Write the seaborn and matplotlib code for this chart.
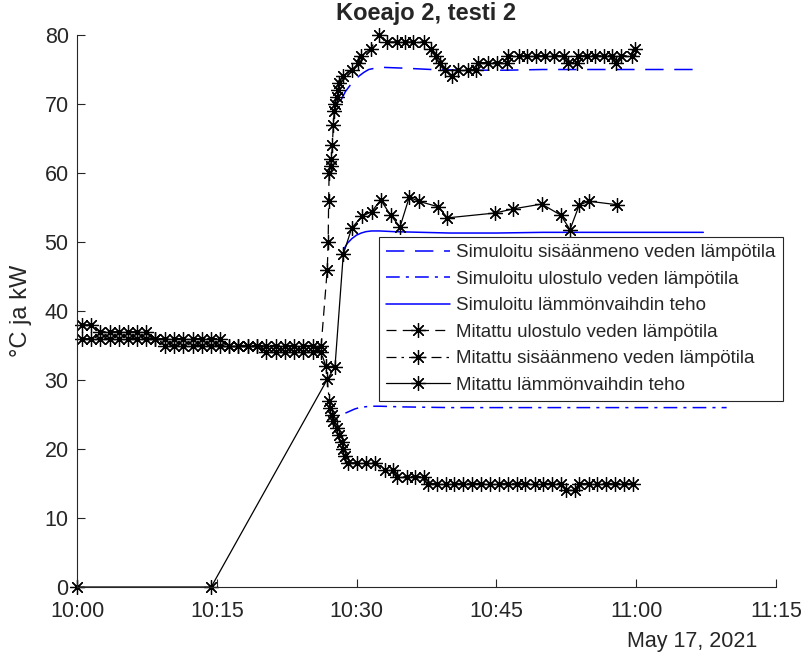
import numpy as np
import pandas as pd
import matplotlib
matplotlib.use("Agg")
import matplotlib.pyplot as plt
import matplotlib.dates as mdates
import seaborn as sns

# ---- measured data (minutes after 10:00) ----
t_out = [0.5, 1.5, 2.5, 3.5, 4.5, 5.5, 6.4, 7.4, 8.4, 9.4, 10.4, 11.4, 12.4, 13.4,
         14.4, 15.3, 16.3, 17.3, 18.3, 19.3, 20.3, 21.3, 22.3, 23.3, 24.3, 25.3, 26.2,
         26.85, 26.95, 27.0, 27.05, 27.2, 27.3, 27.4, 27.5, 27.6, 27.7, 27.9, 28.0, 28.1,
         28.5, 29.5, 30.2, 30.5, 31.5, 32.4, 33.3, 34.3, 35.2, 36.1, 37.2, 38.0, 38.55,
         38.9, 39.5, 40.2, 40.9, 41.9, 42.8, 43.0, 44.1, 45.1, 46.1, 46.2, 47.4, 48.3,
         49.3, 50.2, 51.2, 52.2, 52.7, 53.6, 53.8, 54.7, 55.6, 56.5, 57.4, 57.8, 58.4,
         59.5, 59.9]
v_out = [38, 38, 37, 37, 37, 37, 37, 37, 36, 36, 36, 36, 36, 36,
         36, 36, 35, 35, 35, 35, 35, 35, 35, 35, 35, 35, 35,
         46, 50, 56, 60, 61, 62, 64, 67, 69, 70, 71, 72, 73,
         74, 75, 76, 77, 78, 80, 79, 79, 79, 79, 79, 78, 77,
         76, 75, 74, 75, 75, 75, 76, 76, 76, 76, 77, 77, 77,
         77, 77, 77, 77, 76, 76, 77, 77, 77, 77, 77, 76, 77,
         77, 78]

t_in = [0.5, 1.5, 2.5, 3.5, 4.5, 5.5, 6.4, 7.4, 8.4, 9.4, 10.4, 11.4, 12.4, 13.4,
        14.4, 15.3, 16.3, 17.3, 18.3, 19.3, 20.3, 21.3, 22.3, 23.3, 24.3, 25.3, 26.2,
        26.7, 27.07, 27.15, 27.33, 27.5, 27.86, 28.14, 28.4, 28.57, 28.76, 29.11, 30.0,
        31.0, 32.0, 33.05, 33.9, 34.3, 35.4, 36.3, 37.2, 37.7, 38.6, 39.6, 40.5, 41.4,
        42.4, 43.3, 44.3, 45.3, 46.2, 47.2, 48.1, 49.1, 50.0, 51.0, 51.9, 52.5, 53.4,
        53.9, 54.9, 55.8, 56.8, 57.7, 58.7, 59.7]
v_in = [36, 36, 36, 36, 36, 36, 36, 36, 36, 35, 35, 35, 35, 35,
        35, 35, 35, 35, 35, 35, 34, 34, 34, 34, 34, 34, 34,
        32, 27, 26, 25, 24, 23, 22, 21, 20, 19, 18, 18,
        18, 18, 17, 17, 16, 16, 16, 16, 15, 15, 15, 15, 15,
        15, 15, 15, 15, 15, 15, 15, 15, 15, 15, 15, 14, 14,
        15, 15, 15, 15, 15, 15, 15]

t_pow = [0, 14.4, 26.86, 27.68, 28.57, 29.47, 30.55, 31.62, 32.59, 33.64, 34.66,
         35.65, 36.67, 38.77, 39.75, 44.85, 46.81, 49.86, 51.9, 52.9, 53.9, 54.97, 57.97]
v_pow = [0, 0, 30.1, 31.9, 48.2, 52.0, 53.7, 54.4, 56.1, 53.9, 52.2,
         56.5, 55.9, 55.1, 53.5, 54.2, 54.8, 55.5, 53.9, 51.8, 55.4, 55.9, 55.4]

# ---- simulated data ----
ts_in = [28.3, 28.8, 29.3, 29.8, 30.3, 30.8, 31.3, 32.0, 33.0, 35.0, 38.0, 42.0,
         46.0, 50.0, 55.0, 60.0, 67.2]
vs_in = [70.5, 71.8, 72.7, 73.5, 74.1, 74.6, 75.0, 75.2, 75.3, 75.2, 75.0, 74.9,
         74.9, 75.0, 75.0, 75.0, 75.0]

ts_out = [28.8, 29.3, 29.8, 30.3, 30.8, 31.5, 32.5, 35.0, 40.0, 45.0, 50.0, 55.0,
          60.0, 65.0, 69.7]
vs_out = [25.2, 25.5, 25.8, 26.0, 26.1, 26.2, 26.2, 26.1, 26.0, 26.0, 26.0, 26.0,
          26.0, 26.0, 26.0]

ts_pow = [28.6, 29.0, 29.5, 30.0, 30.5, 31.0, 31.6, 32.5, 34.0, 37.0, 40.0, 45.0,
          50.0, 55.0, 60.0, 67.2]
vs_pow = [48.9, 49.8, 50.5, 51.0, 51.3, 51.5, 51.6, 51.6, 51.5, 51.4, 51.3, 51.3,
          51.4, 51.4, 51.4, 51.4]

labels = [
    "Simuloitu sisäänmeno veden lämpötila",
    "Simuloitu ulostulo veden lämpötila",
    "Simuloitu lämmönvaihdin teho",
    "Mitattu ulostulo veden lämpötila",
    "Mitattu sisäänmeno veden lämpötila",
    "Mitattu lämmönvaihdin teho",
]

start = pd.Timestamp("2021-05-17 10:00")


def clock(minutes):
    return start + pd.to_timedelta(np.asarray(minutes, dtype=float), unit="min")


sns.set_theme(style="white")
plt.rcParams["font.family"] = ["Liberation Sans", "DejaVu Sans"]
axis_grey = "#262626"

fig = plt.figure(figsize=(8.04, 6.55), dpi=100)
ax = fig.add_axes([77 / 804, 1 - 587 / 655, (776 - 77) / 804, (587 - 35) / 655])

blue = "#0000ff"
sim_kw = dict(ax=ax, color=blue, linewidth=1.1, estimator=None, sort=False)
sns.lineplot(x=clock(ts_in), y=vs_in, linestyle=(0, (12, 7)), label=labels[0], **sim_kw)
sns.lineplot(x=clock(ts_out), y=vs_out, linestyle=(0, (9, 4, 2, 4)), label=labels[1], **sim_kw)
sns.lineplot(x=clock(ts_pow), y=vs_pow, linestyle="-", label=labels[2], **sim_kw)

star = (8, 2, 0)
meas_kw = dict(ax=ax, color="black", linewidth=0.9, marker=star, markersize=10.5,
               markeredgecolor="black", markeredgewidth=0.9, estimator=None,
               sort=False, clip_on=False)
sns.lineplot(x=clock(t_out), y=v_out, linestyle=(0, (8, 5)), label=labels[3], **meas_kw)
sns.lineplot(x=clock(t_in), y=v_in, linestyle=(0, (8, 4, 2, 4)), label=labels[4], **meas_kw)
sns.lineplot(x=clock(t_pow), y=v_pow, linestyle="-", label=labels[5], **meas_kw)

ax.set_xlim(start, start + pd.Timedelta(minutes=75))
ax.set_ylim(0, 80)
ax.set_yticks(range(0, 81, 10))
ax.xaxis.set_major_locator(mdates.MinuteLocator(byminute=[0, 15, 30, 45]))
ax.xaxis.set_major_formatter(mdates.DateFormatter("%H:%M"))

for side in ("top", "right"):
    ax.spines[side].set_visible(False)
for side in ("left", "bottom"):
    ax.spines[side].set_color(axis_grey)
    ax.spines[side].set_linewidth(0.8)

ax.tick_params(axis="both", direction="in", length=6, width=0.8, color=axis_grey,
               labelcolor=axis_grey, labelsize=15.5, left=True, bottom=True)
ax.tick_params(axis="x", pad=10)
ax.tick_params(axis="y", pad=6)

ax.set_xlabel("")
ax.set_ylabel("°C ja kW", fontsize=17, color=axis_grey, labelpad=9)
ax.set_title("Koeajo 2, testi 2", fontsize=17, fontweight="bold", pad=11)

fig.text(757 / 804, 1 - 642 / 655, "May 17, 2021", ha="right", va="center",
         fontsize=15.5, color=axis_grey)

handles, hl = ax.get_legend_handles_labels()
leg = ax.legend(handles, hl, loc="upper left", bbox_to_anchor=(379 / 804, 1 - 237 / 655),
                bbox_transform=fig.transFigure, borderaxespad=0, fontsize=13.5,
                handlelength=3.4, handletextpad=0.35, labelspacing=0.5,
                borderpad=0.38, numpoints=1, fancybox=False, framealpha=1,
                edgecolor=axis_grey)
leg.get_frame().set_linewidth(0.8)

fig.savefig("out.png", dpi=100)
